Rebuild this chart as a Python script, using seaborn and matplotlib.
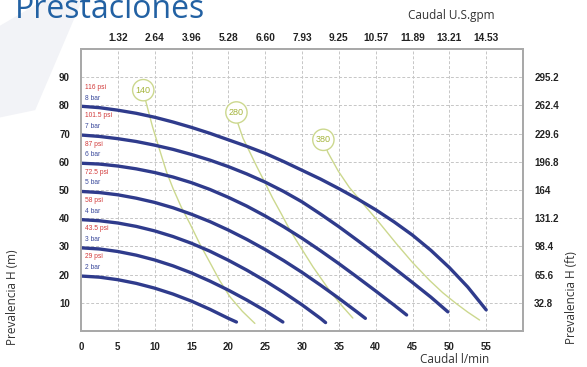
import matplotlib
matplotlib.use("Agg")
import matplotlib.pyplot as plt
from matplotlib.patches import Polygon
import seaborn as sns
import pandas as pd

sns.set_theme(style="white")
plt.rcParams['font.family'] = ['Liberation Sans', 'DejaVu Sans']

# ---- pump curves: head (m) versus flow (l/min) at each supply pressure ----
bar_levels = [2, 3, 4, 5, 6, 7, 8]
psi_labels = ["29 psi", "43.5 psi", "58 psi", "72.5 psi", "87 psi", "101.5 psi", "116 psi"]

q_2bar = [0, 2.5, 5, 7.5, 10, 12.5, 15, 17.5, 20, 21.1]
h_2bar = [19.5, 19.1, 18.2, 16.9, 15.2, 13.1, 10.6, 7.7, 4.5, 3.2]
q_3bar = [0, 2.5, 5, 7.5, 10, 12.5, 15, 17.5, 20, 22.5, 25, 27.4]
h_3bar = [29.5, 29.1, 28.2, 26.9, 25.2, 23.1, 20.6, 17.7, 14.5, 11.0, 7.2, 3.2]
q_4bar = [0, 2.5, 5, 7.5, 10, 12.5, 15, 17.5, 20, 22.5, 25, 27.5, 30, 32.5, 33.2]
h_4bar = [39.5, 39.1, 38.3, 37.1, 35.5, 33.5, 31.1, 28.3, 25.1, 21.6, 17.8, 13.7, 9.3, 4.5, 3.0]
q_5bar = [0, 2.5, 5, 7.5, 10, 12.5, 15, 17.5, 20, 22.5, 25, 27.5, 30, 32.5, 35, 37.5, 38.6]
h_5bar = [49.5, 49.1, 48.3, 47.1, 45.6, 43.7, 41.4, 38.8, 35.8, 32.5, 28.9, 25.0, 20.8, 16.3, 11.6, 6.7, 4.5]
q_6bar = [0, 2.5, 5, 7.5, 10, 12.5, 15, 17.5, 20, 22.5, 25, 27.5, 30, 32.5, 35, 37.5, 40, 42.5, 44.2]
h_6bar = [59.5, 59.2, 58.5, 57.5, 56.2, 54.6, 52.6, 50.2, 47.4, 44.3, 40.8, 37.0, 32.9, 28.5, 23.9, 19.1,
          14.2, 9.2, 5.7]
q_7bar = [0, 2.5, 5, 7.5, 10, 12.5, 15, 17.5, 20, 22.5, 25, 27.5, 30, 32.5, 35, 37.5, 40, 42.5, 45, 47.5, 49.8]
h_7bar = [69.5, 69.0, 68.2, 67.2, 65.9, 64.4, 62.6, 60.6, 58.3, 55.7, 52.8, 49.5, 45.8, 41.5, 37.0, 32.2,
          27.3, 22.3, 17.2, 12.0, 6.8]
q_8bar = [0, 2.5, 5, 7.5, 10, 12.5, 15, 17.5, 20, 22.5, 25, 27.5, 30, 32.5, 35, 37.5, 40, 42.5, 45, 47.5,
          50, 52.5, 55]
h_8bar = [79.7, 79.2, 78.3, 77.2, 75.8, 74.1, 72.2, 70.1, 67.8, 65.5, 63.0, 60.1, 57.0, 53.9, 50.5, 46.9,
          43.0, 38.7, 34.0, 28.6, 22.5, 15.6, 7.5]

# ---- air consumption lines (Nl/min) ----
air_labels = ["140", "280", "380"]
q_air140 = [8.45, 8.8, 9.7, 10.7, 11.6, 12.5, 13.6, 14.8, 16.1, 17.5, 18.8, 20.2, 21.9, 23.6]
h_air140 = [85.4, 81.4, 72.5, 64.0, 56.5, 50.5, 44.0, 38.0, 31.0, 24.3, 18.0, 12.2, 7.0, 2.7]
q_air280 = [21.1, 21.3, 22.0, 22.9, 23.9, 24.9, 26.0, 27.2, 28.3, 29.5, 31.5, 33.7, 35.3, 36.9]
h_air280 = [77.5, 73.6, 68.3, 63.5, 58.1, 53.0, 47.2, 41.5, 36.1, 31.0, 22.7, 14.5, 9.3, 4.6]
q_air380 = [32.9, 33.5, 34.9, 36.4, 38.5, 40.3, 42.8, 45.0, 47.3, 49.1, 50.9, 52.5, 54.1]
h_air380 = [67.8, 63.4, 56.8, 51.0, 44.5, 39.0, 31.0, 24.3, 18.0, 13.6, 9.8, 6.7, 3.9]

# ---- axis tick values ----
flow_ticks = [0, 5, 10, 15, 20, 25, 30, 35, 40, 45, 50, 55]
gpm_ticks = [5, 10, 15, 20, 25, 30, 35, 40, 45, 50, 55]
gpm_labels = ["1.32", "2.64", "3.96", "5.28", "6.60", "7.93", "9.25", "10.57", "11.89", "13.21", "14.53"]
head_ticks = [10, 20, 30, 40, 50, 60, 70, 80, 90]
ft_labels = ["32.8", "65.6", "98.4", "131.2", "164", "196.8", "229.6", "262.4", "295.2"]

pump_q = [q_2bar, q_3bar, q_4bar, q_5bar, q_6bar, q_7bar, q_8bar]
pump_h = [h_2bar, h_3bar, h_4bar, h_5bar, h_6bar, h_7bar, h_8bar]
pump_df = pd.concat(
    [pd.DataFrame({"bar": b, "q": q, "h": h}) for b, q, h in zip(bar_levels, pump_q, pump_h)],
    ignore_index=True)

air_q = [q_air140, q_air280, q_air380]
air_h = [h_air140, h_air280, h_air380]
air_df = pd.concat(
    [pd.DataFrame({"air": a, "q": q, "h": h}) for a, q, h in zip(air_labels, air_q, air_h)],
    ignore_index=True)

BLUE = "#2f3b8c"
GREEN = "#ccd88e"
GREEN_TXT = "#a4b43a"
GRID = "#c6c6c6"
SPINE = "#a9a9a9"
TXT = "#222222"

fig = plt.figure(figsize=(5.87, 3.67), dpi=100)
fig.patch.set_facecolor("white")

# faint background shape at top left
fig.patches.append(Polygon([[0.0, 0.93], [0.075, 1.0], [0.14, 1.0], [0.06, 0.70], [0.0, 0.68]],
                           closed=True, transform=fig.transFigure,
                           facecolor="#f2f3f7", edgecolor="none", zorder=0))

ax = fig.add_axes([0.138, 0.098, 0.753, 0.7685])
ax.set_facecolor("none")

sns.lineplot(data=air_df, x="q", y="h", units="air", estimator=None, sort=False,
             color=GREEN, lw=1.0, ax=ax, zorder=2)
sns.lineplot(data=pump_df, x="q", y="h", units="bar", estimator=None, sort=False,
             color=BLUE, lw=2.4, ax=ax, zorder=3, solid_capstyle="round", solid_joinstyle="round")

# circled air consumption labels at the top of each line
for lab, q, h in zip(air_labels, air_q, air_h):
    ax.text(q[0], h[0], lab, ha="center", va="center", fontsize=6.5, color=GREEN_TXT,
            zorder=5, bbox=dict(boxstyle="circle,pad=0.35", fc="white", ec=GREEN, lw=1.0))

# pressure labels next to the start of each curve
for b, psi in zip(bar_levels, psi_labels):
    ax.text(0.5, b * 10 + 6.3, psi, fontsize=4.8, color="#d23a3a", va="center", ha="left", zorder=4)
    ax.text(0.5, b * 10 + 2.5, f"{b} bar", fontsize=4.8, color="#3b4a9c", va="center", ha="left", zorder=4)

ax.set_xlim(0, 60)
ax.set_ylim(0, 100)
ax.set_xticks(flow_ticks)
ax.set_yticks(head_ticks)
ax.set_xlabel("")
ax.set_ylabel("")
ax.grid(True, color=GRID, ls=(0, (3, 2)), lw=0.7)
ax.set_axisbelow(True)
ax.tick_params(length=0, pad=8, labelsize=7, labelcolor=TXT)
for lbl in ax.get_xticklabels() + ax.get_yticklabels():
    lbl.set_fontweight("bold")

top = ax.twiny()
top.set_xlim(0, 60)
top.set_xticks(gpm_ticks)
top.set_xticklabels(gpm_labels)
top.tick_params(length=0, pad=4, labelsize=7.3, labelcolor=TXT)
top.grid(False)

right = ax.twinx()
right.set_ylim(0, 100)
right.set_yticks(head_ticks)
right.set_yticklabels(ft_labels)
right.tick_params(length=0, pad=8, labelsize=7, labelcolor=TXT)
right.grid(False)

for a in (ax, top, right):
    for s in a.spines.values():
        s.set_color(SPINE)
        s.set_linewidth(1.2)
for lbl in top.get_xticklabels() + right.get_yticklabels():
    lbl.set_fontweight("bold")

fig.text(0.026, 0.952, "Prestaciones", fontsize=23, color="#2261a3",
         family=["Open Sans", "DejaVu Sans"], va="baseline", ha="left")
fig.text(0.768, 0.958, "Caudal U.S.gpm", fontsize=8.5, color="#333333",
         family=["Open Sans", "DejaVu Sans"], va="center", ha="center")
fig.text(0.775, 0.021, "Caudal l/min", fontsize=8.5, color="#333333",
         family=["Open Sans", "DejaVu Sans"], va="center", ha="center")
fig.text(0.021, 0.19, "Prevalencia H (m)", fontsize=8.5, color="#333333", rotation=90,
         family=["Open Sans", "DejaVu Sans"], va="center", ha="center")
fig.text(0.974, 0.19, "Prevalencia H (ft)", fontsize=8.5, color="#333333", rotation=90,
         family=["Open Sans", "DejaVu Sans"], va="center", ha="center")

fig.savefig("out.png", dpi=100, facecolor="white")
